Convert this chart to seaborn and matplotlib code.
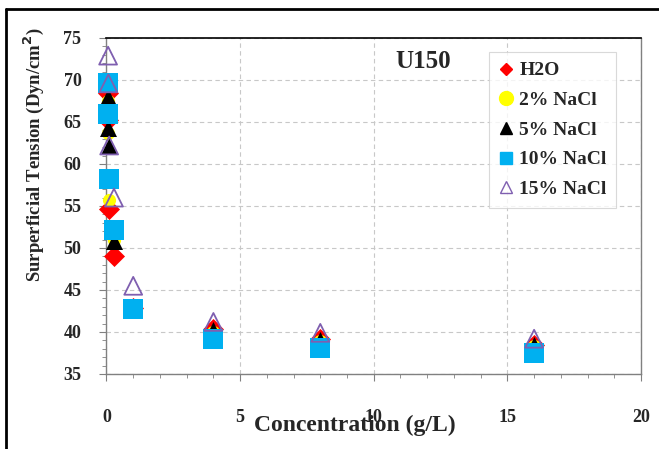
import matplotlib
matplotlib.use("Agg")
import matplotlib.pyplot as plt
import seaborn as sns
import pandas as pd
from matplotlib.lines import Line2D
from matplotlib.ticker import MultipleLocator

# ---- data ----
conc = [0.06, 0.07, 0.1, 0.28, 1, 4, 8, 16]
h2o = [68.4, 65.2, 54.6, 49.1, 42.9, 40.3, 39.2, 38.5]
nacl2 = [67.5, 63.7, 55.7, 51.0, 42.9, 40.0, 38.9, 38.3]
nacl5 = [68.0, 64.3, 62.1, 50.8, 43.0, 40.2, 39.0, 38.4]
nacl10 = [69.6, 66.0, 58.2, 52.2, 42.7, 39.2, 38.1, 37.5]
nacl15 = [72.9, 69.6, 62.2, 56.0, 45.5, 41.2, 39.9, 39.2]
labels = ["H2O", "2% NaCl", "5% NaCl", "10% NaCl", "15% NaCl"]
xticks = [0, 5, 10, 15, 20]
yticks = [35, 40, 45, 50, 55, 60, 65, 70, 75]

sns.set_theme(style="white")
plt.rcParams['font.family'] = ['Liberation Serif', 'DejaVu Serif']
plt.rcParams['font.weight'] = 'bold'

fig = plt.figure(figsize=(6.59, 4.49), dpi=100)
ax = fig.add_axes([106.5/659, 1-374/449, 534.5/659, 336/449])

styles = [
    dict(marker="D", s=115, color="#ff0000", edgecolor="#ff0000", linewidth=0),
    dict(marker="o", s=90, color="#ffff00", edgecolor="#ffff00", linewidth=0),
    dict(marker="^", s=150, color="black", edgecolor="black", linewidth=0),
    dict(marker="s", s=210, color="#00b0f0", edgecolor="#00b0f0", linewidth=0),
    dict(marker="^", s=165, color="none", edgecolor="#7f5fb0", linewidth=1.3),
]
series = [h2o, nacl2, nacl5, nacl10, nacl15]
for lab, vals, st in zip(labels, series, styles):
    df = pd.DataFrame({"x": conc, "y": vals})
    sns.scatterplot(data=df, x="x", y="y", ax=ax, zorder=3, legend=False,
                    clip_on=False, **st)

ax.set_xlim(0, 20)
ax.set_ylim(35, 75)
ax.set_xticks(xticks)
ax.set_yticks(yticks)
ax.xaxis.set_minor_locator(MultipleLocator(1))
ax.yaxis.set_minor_locator(MultipleLocator(1))
ax.tick_params(axis='both', which='major', direction='out', length=5, width=0.8,
               color='#808080', labelsize=13, bottom=True, left=True)
ax.tick_params(axis='x', which='major', pad=20)
ax.tick_params(axis='y', which='major', pad=13)
ax.tick_params(axis='both', which='minor', direction='out', length=3, width=0.6,
               color='#808080', bottom=True, left=True)
for t in ax.get_xticklabels() + ax.get_yticklabels():
    t.set_fontweight('bold')

ax.grid(True, which='major', linestyle=(0, (4, 3)), color='#c8c8c8', linewidth=0.8)
ax.set_axisbelow(True)
for sp in ['left', 'bottom', 'right']:
    ax.spines[sp].set_color('#808080')
    ax.spines[sp].set_linewidth(1.0)
ax.spines['top'].set_color('black')
ax.spines['top'].set_linewidth(1.2)

ax.set_xlabel("Concentration (g/L)", fontsize=17, fontweight='bold')
ax.set_ylabel("Surperficial Tension (Dyn/cm$^\\mathbf{2}$)", fontsize=13.5, fontweight='bold')
ax.xaxis.set_label_coords(0.465, -0.152)
ax.yaxis.set_label_coords(-0.136, 0.652)
ax.xaxis.label.set_va('center')
ax.yaxis.label.set_va('center')

ax.text(0.593, 0.929, "U150", transform=ax.transAxes, fontsize=18,
        fontweight='bold', ha='center', va='center')

handles = [
    Line2D([], [], marker="D", linestyle="none", markersize=6, color="#ff0000"),
    Line2D([], [], marker="o", linestyle="none", markersize=10, color="#ffff00"),
    Line2D([], [], marker="^", linestyle="none", markersize=8, color="black"),
    Line2D([], [], marker="s", linestyle="none", markersize=8, color="#00b0f0"),
    Line2D([], [], marker="^", linestyle="none", markersize=8, markerfacecolor="none",
           markeredgecolor="#7f5fb0", markeredgewidth=1.0),
]
leg = ax.legend(handles, labels, loc='upper left', bbox_to_anchor=(0.716, 0.958),
                borderaxespad=0, frameon=True, fancybox=False, handlelength=0.7,
                handletextpad=0.35, labelspacing=0.62, borderpad=0.5,
                prop={'weight': 'bold', 'size': 14})
leg.get_frame().set_edgecolor('#d0d0d0')
leg.get_frame().set_linewidth(0.8)

# outer chart frame (left and top edges)
fig.add_artist(Line2D([6/659, 6/659], [0, 1-9/449], transform=fig.transFigure,
                      color='black', linewidth=2))
fig.add_artist(Line2D([6/659, 1], [1-9/449, 1-9/449], transform=fig.transFigure,
                      color='black', linewidth=2))

fig.savefig("out.png", dpi=100)
